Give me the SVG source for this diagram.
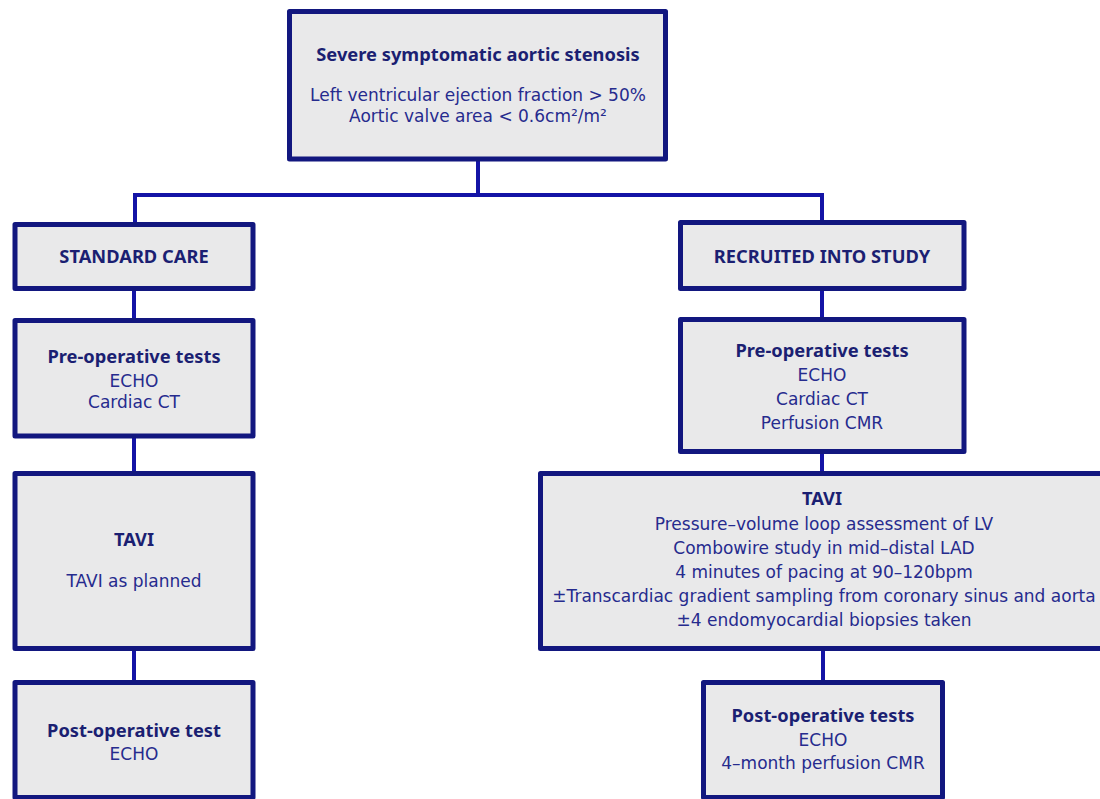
<svg xmlns="http://www.w3.org/2000/svg" width="1100" height="799" viewBox="0 0 1100 799">
<style>
.box{fill:#e9e9ea;stroke:#12177f;stroke-width:5;stroke-linejoin:round}
.con{fill:none;stroke:#1414a6;stroke-width:4}
text{text-anchor:middle}
.t{font-family:"Noto Sans","DejaVu Sans",sans-serif;font-size:18.3px;font-weight:bold;fill:#1b1f72}
.r{font-family:"DejaVu Sans","Noto Sans",sans-serif;font-size:17px;fill:#262b8e}
</style>
<rect width="1100" height="799" fill="#ffffff"/>
<g id="connectors">
<path class="con" d="M478 159V195M135 224V195H822V222"/>
<path class="con" d="M134 289V320"/>
<path class="con" d="M134 436V473"/>
<path class="con" d="M134 648V682"/>
<path class="con" d="M822 288V319"/>
<path class="con" d="M822 451V473"/>
<path class="con" d="M823 648V682"/>
</g>
<g id="n-top">
<rect class="box" x="289.5" y="11.5" width="376" height="147.5"/>
<text class="t" x="478" y="61">Severe symptomatic aortic stenosis</text>
<text class="r" x="478" y="101">Left ventricular ejection fraction &gt; 50%</text>
<text class="r" x="478" y="122">Aortic valve area &lt; 0.6cm²/m²</text>
</g>
<g id="n-standard">
<rect class="box" x="15" y="224.5" width="238" height="64"/>
<text class="t" x="134" y="263">STANDARD CARE</text>
</g>
<g id="n-pre-left">
<rect class="box" x="15" y="320.5" width="238" height="115.5"/>
<text class="t" x="134" y="363">Pre-operative tests</text>
<text class="r" x="134" y="387">ECHO</text>
<text class="r" x="134" y="408">Cardiac CT</text>
</g>
<g id="n-tavi-left">
<rect class="box" x="15" y="473.5" width="238" height="175"/>
<text class="t" x="134" y="546">TAVI</text>
<text class="r" x="134" y="587">TAVI as planned</text>
</g>
<g id="n-post-left">
<rect class="box" x="15" y="682.5" width="238" height="115"/>
<text class="t" x="134" y="737">Post-operative test</text>
<text class="r" x="134" y="760">ECHO</text>
</g>
<g id="n-recruited">
<rect class="box" x="680.5" y="222.5" width="283.5" height="66"/>
<text class="t" x="822" y="263">RECRUITED INTO STUDY</text>
</g>
<g id="n-pre-right">
<rect class="box" x="680.5" y="319.5" width="283.5" height="132"/>
<text class="t" x="822" y="357">Pre-operative tests</text>
<text class="r" x="822" y="381">ECHO</text>
<text class="r" x="822" y="405">Cardiac CT</text>
<text class="r" x="822" y="429">Perfusion CMR</text>
</g>
<g id="n-tavi-right">
<rect class="box" x="540.5" y="473.5" width="567" height="175"/>
<text class="t" x="822" y="505">TAVI</text>
<text class="r" x="824" y="530">Pressure–volume loop assessment of LV</text>
<text class="r" x="824" y="554">Combowire study in mid–distal LAD</text>
<text class="r" x="824" y="578">4 minutes of pacing at 90–120bpm</text>
<text class="r" x="824" y="602">±Transcardiac gradient sampling from coronary sinus and aorta</text>
<text class="r" x="824" y="626">±4 endomyocardial biopsies taken</text>
</g>
<g id="n-post-right">
<rect class="box" x="703.5" y="682.5" width="239" height="115"/>
<text class="t" x="823" y="722">Post-operative tests</text>
<text class="r" x="823" y="746">ECHO</text>
<text class="r" x="823" y="769">4–month perfusion CMR</text>
</g>
</svg>
